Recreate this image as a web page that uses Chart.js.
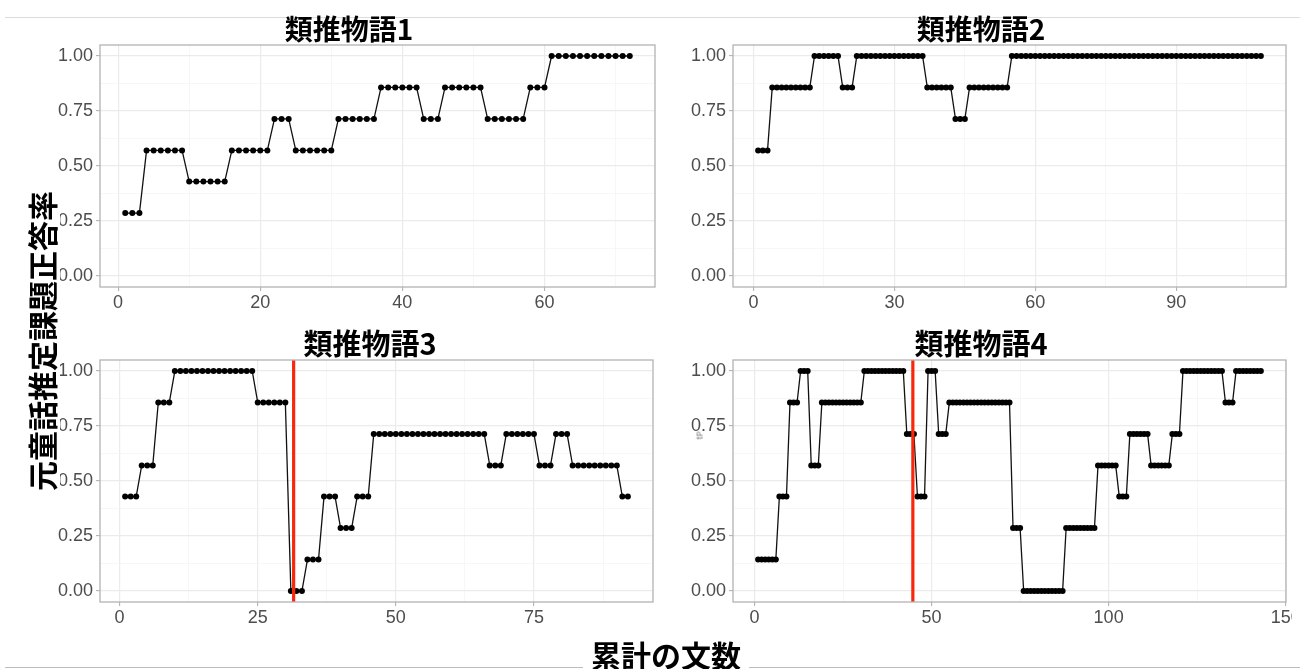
<!DOCTYPE html>
<html><head><meta charset="utf-8">
<script src="https://cdn.jsdelivr.net/npm/chart.js@4"></script>
<style>
body{margin:0;background:#fff;width:1304px;height:669px;position:relative;overflow:hidden;font-family:'Noto Sans CJK JP',sans-serif}
canvas{position:absolute}
.t{position:absolute;font-weight:700;color:#000;text-align:center;white-space:nowrap;z-index:2}
.hl{position:absolute;height:1px;background:#c8c8c8}
</style></head><body>
<div class="hl" style="left:5px;top:17px;width:1295px;background:#dcdcdc"></div>
<div class="hl" style="left:5px;top:667px;width:1295px;background:#bdbdbd"></div>
<canvas id="c1"></canvas><canvas id="c2"></canvas><canvas id="c3"></canvas><canvas id="c4"></canvas>
<div class="t" id="t1"></div><div class="t" id="t2"></div><div class="t" id="t3"></div><div class="t" id="t4"></div>
<div class="t" id="yt"></div><div class="t" id="xt"></div>
<div class="t" id="art" style="left:695px;top:430px;font-size:8px;font-weight:400;color:#666;transform:rotate(-90deg)">tP</div>
<script>
// ---- text ----
const panelTitles = ['類推物語1', '類推物語2', '類推物語3', '類推物語4'];
const yTitle = '元童話推定課題正答率';
const xTitle = '累計の文数';

// ---- tick values ----
const yMajorTicks = [0, 0.25, 0.5, 0.75, 1];
const yMinorTicks = [0.125, 0.375, 0.625, 0.875];
const xMajor1 = [0, 20, 40, 60],   xMinor1 = [10, 30, 50, 70];
const xMajor2 = [0, 30, 60, 90],   xMinor2 = [15, 45, 75, 105];
const xMajor3 = [0, 25, 50, 75],   xMinor3 = [12.5, 37.5, 62.5, 87.5];
const xMajor4 = [0, 50, 100, 150], xMinor4 = [25, 75, 125];

// ---- series values (x = 1, 2, 3, ... cumulative sentence count) ----
const story1 = [
0.286,0.286,0.286,
0.571,0.571,0.571,0.571,0.571,0.571,
0.429,0.429,0.429,0.429,0.429,0.429,
0.571,0.571,0.571,0.571,0.571,0.571,
0.714,0.714,0.714,
0.571,0.571,0.571,0.571,0.571,0.571,
0.714,0.714,0.714,0.714,0.714,0.714,
0.857,0.857,0.857,0.857,0.857,0.857,
0.714,0.714,0.714,
0.857,0.857,0.857,0.857,0.857,0.857,
0.714,0.714,0.714,0.714,0.714,0.714,
0.857,0.857,0.857,
1,1,1,1,1,1,1,1,1,1,1,1];

const story2 = [
0.571,0.571,0.571,
0.857,0.857,0.857,0.857,0.857,0.857,0.857,0.857,0.857,
1,1,1,1,1,1,
0.857,0.857,0.857,
1,1,1,1,1,1,1,1,1,1,1,1,1,1,1,
0.857,0.857,0.857,0.857,0.857,0.857,
0.714,0.714,0.714,
0.857,0.857,0.857,0.857,0.857,0.857,0.857,0.857,0.857,
1,1,1,1,1,1,1,1,1,
1,1,1,1,1,1,1,1,1,
1,1,1,1,1,1,1,1,1,
1,1,1,1,1,1,1,1,1,
1,1,1,1,1,1,1,1,1,
1,1,1,1,1,1,1,1,1];

const story3 = [
0.429,0.429,0.429,
0.571,0.571,0.571,
0.857,0.857,0.857,
1,1,1,1,1,1,1,1,1,1,1,1,1,1,1,
0.857,0.857,0.857,0.857,0.857,0.857,
0,0,0,
0.143,0.143,0.143,
0.429,0.429,0.429,
0.286,0.286,0.286,
0.429,0.429,0.429,
0.714,0.714,0.714,0.714,0.714,0.714,0.714,0.714,0.714,0.714,0.714,
0.714,0.714,0.714,0.714,0.714,0.714,0.714,0.714,0.714,0.714,
0.571,0.571,0.571,
0.714,0.714,0.714,0.714,0.714,0.714,
0.571,0.571,0.571,
0.714,0.714,0.714,
0.571,0.571,0.571,0.571,0.571,0.571,0.571,0.571,0.571,
0.429,0.429];

const story4 = [
0.143,0.143,0.143,0.143,0.143,0.143,
0.429,0.429,0.429,
0.857,0.857,0.857,
1,1,1,
0.571,0.571,0.571,
0.857,0.857,0.857,0.857,0.857,0.857,0.857,0.857,0.857,0.857,0.857,0.857,
1,1,1,1,1,1,1,1,1,1,1,1,
0.714,0.714,0.714,
0.429,0.429,0.429,
1,1,1,
0.714,0.714,0.714,
0.857,0.857,0.857,0.857,0.857,0.857,0.857,0.857,0.857,
0.857,0.857,0.857,0.857,0.857,0.857,0.857,0.857,0.857,
0.286,0.286,0.286,
0,0,0,0,0,0,0,0,0,0,0,0,
0.286,0.286,0.286,0.286,0.286,0.286,0.286,0.286,0.286,
0.571,0.571,0.571,0.571,0.571,0.571,
0.429,0.429,0.429,
0.714,0.714,0.714,0.714,0.714,0.714,
0.571,0.571,0.571,0.571,0.571,0.571,
0.714,0.714,0.714,
1,1,1,1,1,1,1,1,1,1,1,1,
0.857,0.857,0.857,
1,1,1,1,1,1,1,1];

// red reference lines (x value) for panels 3 and 4
const redLine3 = 31.5;
const redLine4 = 44.7;

// ---- layout (pixel geometry only) ----
const panels = [
  {id:'c1', data:story1, major:xMajor1, minor:xMinor1, vline:null,     left:100, right:655,  top:45,  bottom:287, padR:20},
  {id:'c2', data:story2, major:xMajor2, minor:xMinor2, vline:null,     left:733, right:1286, top:45,  bottom:287, padR:12},
  {id:'c3', data:story3, major:xMajor3, minor:xMinor3, vline:redLine3, left:100, right:653,  top:360, bottom:602, padR:20},
  {id:'c4', data:story4, major:xMajor4, minor:xMinor4, vline:redLine4, left:733, right:1286, top:360, bottom:602, padR:6},
];
const YAXW = 62, XAXH = 32, PADT = 5;

Chart.defaults.font.family = "'Liberation Sans', Arial, sans-serif";
Chart.defaults.font.size = 18;
Chart.defaults.color = '#4d4d4d';

const panelPlugin = {
  id: 'panelDeco',
  afterDatasetsDraw(chart, args, opts) {
    const {ctx, chartArea: a, scales} = chart;
    ctx.save();
    if (opts.vline != null) {
      const x = scales.x.getPixelForValue(opts.vline);
      ctx.strokeStyle = '#f8280c';
      ctx.lineWidth = 3.2;
      ctx.beginPath(); ctx.moveTo(x, a.top); ctx.lineTo(x, a.bottom); ctx.stroke();
    }
    ctx.strokeStyle = '#b3b3b3';
    ctx.lineWidth = 1.3;
    ctx.strokeRect(a.left, a.top, a.right - a.left, a.bottom - a.top);
    ctx.restore();
  }
};

function isIn(arr, v) { return arr.some(m => Math.abs(m - v) < 1e-9); }

panels.forEach(p => {
  const cv = document.getElementById(p.id);
  const W = YAXW + (p.right - p.left) + p.padR;
  const H = PADT + (p.bottom - p.top) + XAXH;
  cv.width = W; cv.height = H;
  cv.style.left = (p.left - YAXW) + 'px';
  cv.style.top = (p.top - PADT) + 'px';
  const n = p.data.length;
  const pts = p.data.map((y, i) => ({x: i + 1, y: y}));
  const xAll = p.major.concat(p.minor).sort((a, b) => a - b);
  const yAll = yMajorTicks.concat(yMinorTicks).sort((a, b) => a - b);
  new Chart(cv, {
    type: 'line',
    data: { datasets: [{
      data: pts, borderColor: '#111', borderWidth: 1.3, tension: 0,
      pointRadius: 3, pointBackgroundColor: '#000', pointBorderWidth: 0, pointHoverRadius: 3
    }]},
    options: {
      responsive: false, animation: false, devicePixelRatio: 1,
      layout: { padding: { top: PADT, right: p.padR, left: 0, bottom: 0 } },
      plugins: { legend: {display: false}, tooltip: {enabled: false}, panelDeco: {vline: p.vline} },
      scales: {
        x: {
          type: 'linear', min: 1 - 0.05 * (n - 1), max: n + 0.05 * (n - 1),
          afterBuildTicks: ax => { ax.ticks = xAll.map(v => ({value: v})); },
          afterFit: ax => { ax.height = XAXH; ax.paddingLeft = 0; ax.paddingRight = 0; },
          border: {display: false},
          grid: {
            color: c => (c.tick && isIn(p.major, c.tick.value)) ? '#ebebeb' : '#f3f3f3',
            lineWidth: c => (c.tick && isIn(p.major, c.tick.value)) ? 1.2 : 0.7,
            tickColor: c => (c.tick && isIn(p.major, c.tick.value)) ? '#b3b3b3' : 'rgba(0,0,0,0)',
            tickLength: 4, tickWidth: 1.1
          },
          ticks: {
            autoSkip: false, maxRotation: 0, padding: 1,
            callback: v => isIn(p.major, v) ? String(v) : ''
          }
        },
        y: {
          type: 'linear', min: -0.05, max: 1.05,
          afterBuildTicks: ax => { ax.ticks = yAll.map(v => ({value: v})); },
          afterFit: ax => { ax.width = YAXW; ax.paddingTop = 0; ax.paddingBottom = 0; },
          border: {display: false},
          grid: {
            color: c => (c.tick && isIn(yMajorTicks, c.tick.value)) ? '#ebebeb' : '#f3f3f3',
            lineWidth: c => (c.tick && isIn(yMajorTicks, c.tick.value)) ? 1.2 : 0.7,
            tickColor: c => (c.tick && isIn(yMajorTicks, c.tick.value)) ? '#b3b3b3' : 'rgba(0,0,0,0)',
            tickLength: 4, tickWidth: 1.1
          },
          ticks: {
            autoSkip: false, padding: 3,
            callback: v => isIn(yMajorTicks, v) ? v.toFixed(2) : ''
          }
        }
      }
    },
    plugins: [panelPlugin]
  });
});

// ---- titles ----
function place(id, text, css) {
  const d = document.getElementById(id);
  d.textContent = text;
  Object.assign(d.style, css);
}
place('t1', panelTitles[0], {left:'249px', width:'200px', top:'11px', fontSize:'28px', lineHeight:'34px'});
place('t2', panelTitles[1], {left:'881px', width:'200px', top:'11px', fontSize:'28px', lineHeight:'34px'});
place('t3', panelTitles[2], {left:'270px', width:'200px', top:'325px', fontSize:'29px', lineHeight:'34px'});
place('t4', panelTitles[3], {left:'881px', width:'200px', top:'325px', fontSize:'29px', lineHeight:'34px'});
// title box (white) spans x 22..60 so it hides the left edge of nearby tick labels, as in the reference
place('yt', yTitle, {left:(41 - 154) + 'px', top:(341 - 19) + 'px', width:'308px', height:'38px', lineHeight:'38px',
  fontSize:'30px', background:'#fff', transform:'rotate(-90deg)'});
place('xt', xTitle, {left:'583px', width:'166px', top:'637px', height:'34px', lineHeight:'34px', fontSize:'30px', background:'#fff'});
</script>
</body></html>
